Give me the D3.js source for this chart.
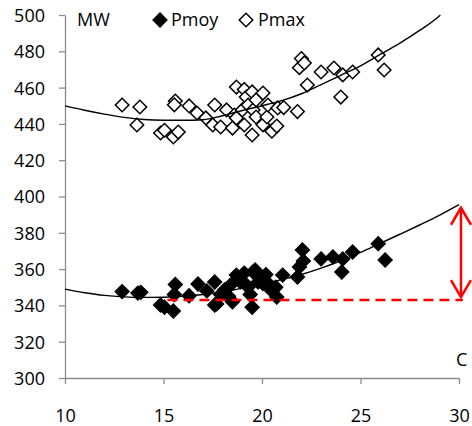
<!DOCTYPE html>
<html><head><meta charset="utf-8">
<script src="https://cdn.jsdelivr.net/npm/d3@7/dist/d3.min.js"></script>
<style>body{margin:0;background:#fff}svg{display:block}text{font-family:"Open Sans",sans-serif}</style>
</head><body><svg id="c" width="472" height="426"></svg>
<script>
const xTicks=[10,15,20,25,30];
const yTicks=[300,320,340,360,380,400,420,440,460,480,500];
const seriesNames=["Pmoy","Pmax"];
const pmaxX=[12.9,13.8,13.65,14.85,15.05,15.5,15.75,15.6,15.55,16.3,16.7,17.15,17.6,17.5,17.9,18.2,18.5,18.6,18.7,18.7,19.0,19.1,19.1,19.2,19.3,19.5,19.5,19.55,19.7,19.7,20.05,20.05,20.25,20.3,20.5,20.75,20.8,21.1,21.8,22.3,21.9,22.0,22.15,23.0,23.65,24.1,24.6,24.0,25.9,26.2];
const pmaxY=[450.4,449.3,439.4,435,436.5,432.8,435.5,452.6,450.5,449.9,446,443.3,450.4,439.4,438.3,447.7,437.7,444.9,460.3,443.3,447.7,459,439.4,454.8,450.4,457.6,433.9,447.7,453.2,443.8,457,439.5,443.8,450.4,436,438.8,448.8,449,446.8,461.4,471,476,473.6,468.6,470.8,467,468.6,454.8,478,469.7];
const pmoyX=[12.9,13.7,13.85,14.85,15.05,15.5,15.6,15.55,16.3,16.75,17.2,17.6,17.7,18.1,18.4,18.5,18.7,18.8,19.1,19.3,19.5,19.55,19.65,19.8,20.05,20.3,20.4,20.75,21.05,21.8,21.9,22.1,22.05,23.0,23.6,24.1,24.05,24.6,25.9,26.25,17.6,19.2,17.9,18.9,19.9,20.5,18.3,20.2,19.4,20.7];
const pmoyY=[347.6,346.8,347.2,340.2,339,336.9,351.5,346,345.3,351.8,348,352.9,340.8,348.5,351.2,342,356.7,355,357.8,350.1,339,358.4,359.5,352.9,352,352.3,350,344.6,356.7,355.6,361.2,364.5,370.5,365.6,366.7,365.6,358.4,369.4,374,365,340.2,351.2,346,353,355,348,345,357,346,350];
const trendX=[10,11,12,13,14,15,16,17,18,19,20,21,22,23,24,25,26,27,28,29,29.05];
const trendMaxY=[449.9,447.5,445.4,443.6,442.4,442,442,442.3,444.5,447.4,450,452.8,456.6,461.6,466.8,472,478.3,484.5,491.5,499.5,500];
const trendX2=[10,11,12,13,14,15,16,17,18,19,20,21,22,23,24,25,26,27,28,29,30];
const trendMoyY=[349,347,345.5,344.7,344.4,344.5,345,346,347.5,349.5,351.6,354.2,357,360.5,364.6,369.2,374.2,379.2,384.3,389.6,395.5];
const baseLine={x0:15.2,x1:30.2,y:343};
const arrowSpan={x:30.1,y0:344.6,y1:393.8};

const svg=d3.select("#c");
const x=d3.scaleLinear().domain([10,30]).range([65,459]);
const y=d3.scaleLinear().domain([300,500]).range([378,15]);
const axisColor="#8c8c8c";

const gy=svg.append("g").attr("transform","translate(65,0)")
  .call(d3.axisLeft(y).tickValues(yTicks).tickSize(6).tickSizeOuter(0));
gy.select(".domain").attr("stroke",axisColor).attr("stroke-width",1.3);
gy.selectAll(".tick line").attr("stroke",axisColor).attr("stroke-width",1.3);
gy.selectAll(".tick text").attr("x",-20).attr("dy","0.36em").attr("font-size",18).attr("fill","#000").attr("font-family","Open Sans");

const gx=svg.append("g").attr("transform","translate(0,378)")
  .call(d3.axisBottom(x).tickValues(xTicks).tickSize(6).tickSizeOuter(0));
gx.select(".domain").attr("stroke",axisColor).attr("stroke-width",1.3);
gx.selectAll(".tick line").attr("stroke",axisColor).attr("stroke-width",1.3);
gx.selectAll(".tick text").attr("y",44).attr("dy",0).attr("font-size",18).attr("fill","#000").attr("font-family","Open Sans");

const symF=d3.symbol().type(d3.symbolSquare).size(104)();
const sym=d3.symbol().type(d3.symbolSquare).size(92)();
const mk=(g,X,Y,filled)=>g.selectAll("path").data(X.map((v,i)=>[v,Y[i]])).join("path")
  .attr("d",filled?symF:sym).attr("transform",d=>`translate(${x(d[0])},${y(d[1])}) rotate(45)`)
  .attr("fill",filled?"#000":"#fff").attr("stroke","#000").attr("stroke-width",filled?1:1.5);
mk(svg.append("g"),pmoyX,pmoyY,true);
mk(svg.append("g"),pmaxX,pmaxY,false);

const line=d3.line().x(d=>x(d[0])).y(d=>y(d[1])).curve(d3.curveMonotoneX);
svg.append("path").attr("d",line(trendX.map((v,i)=>[v,trendMaxY[i]]))).attr("fill","none").attr("stroke","#000").attr("stroke-width",1.4);
svg.append("path").attr("d",line(trendX2.map((v,i)=>[v,trendMoyY[i]]))).attr("fill","none").attr("stroke","#000").attr("stroke-width",1.4);

svg.append("line").attr("x1",x(baseLine.x0)).attr("x2",x(baseLine.x1)).attr("y1",y(baseLine.y)).attr("y2",y(baseLine.y))
  .attr("stroke","#ff0000").attr("stroke-width",2.5).attr("stroke-dasharray","10,6");
const ax=x(arrowSpan.x), ya=y(arrowSpan.y1), yb=y(arrowSpan.y0);
svg.append("line").attr("x1",ax).attr("x2",ax).attr("y1",ya).attr("y2",yb).attr("stroke","#ff0000").attr("stroke-width",2.5);
svg.append("path").attr("d",`M${ax-10},${ya+17}L${ax},${ya}L${ax+10},${ya+17}M${ax-10},${yb-17}L${ax},${yb}L${ax+10},${yb-17}`)
  .attr("fill","none").attr("stroke","#ff0000").attr("stroke-width",2.5).attr("stroke-linejoin","miter");

// legend
svg.append("text").attr("x",77).attr("y",26).attr("font-size",18).text("MW");
const lg=svg.append("g");
lg.append("path").attr("d",symF).attr("transform","translate(160,20) rotate(45)").attr("fill","#000").attr("stroke","#000");
lg.append("text").attr("x",171).attr("y",26).attr("font-size",18).text(seriesNames[0]);
lg.append("path").attr("d",sym).attr("transform","translate(246,20) rotate(45)").attr("fill","#fff").attr("stroke","#000").attr("stroke-width",1.5);
lg.append("text").attr("x",258).attr("y",26).attr("font-size",18).text(seriesNames[1]);
svg.append("text").attr("x",456).attr("y",366).attr("font-size",18).text("C");
</script></body></html>
